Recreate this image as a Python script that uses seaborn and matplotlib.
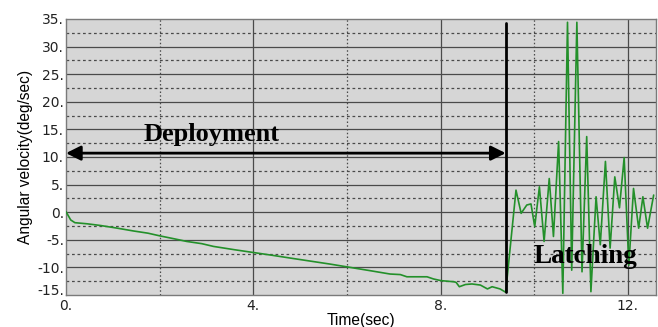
import numpy as np
import pandas as pd
import matplotlib
matplotlib.use("Agg")
import matplotlib.pyplot as plt
import matplotlib.transforms as mtransforms
import seaborn as sns

# ---- data ----
t_deploy = [0.0, 0.1, 0.19, 0.45, 0.73, 1.1, 1.44, 1.75, 2.01, 2.3, 2.58, 2.9, 3.15, 3.6,
            4.0, 4.4, 4.86, 5.25, 5.64, 6.07, 6.5, 6.92, 7.14, 7.28, 7.5, 7.71, 7.85,
            8.01, 8.28, 8.33, 8.40, 8.53, 8.67, 8.85, 9.0, 9.10, 9.27, 9.39]
w_deploy = [0.1, -1.4, -1.9, -2.1, -2.4, -2.9, -3.4, -3.8, -4.3, -4.8, -5.3, -5.7, -6.2, -6.8,
            -7.3, -7.8, -8.4, -8.9, -9.4, -10.0, -10.6, -11.2, -11.3, -11.7, -11.7, -11.7, -12.1,
            -12.4, -12.6, -12.7, -13.5, -13.1, -13.0, -13.2, -13.9, -13.5, -13.9, -14.5]

t_latch = [9.61, 9.72, 9.84, 9.93, 10.01, 10.11, 10.21, 10.32, 10.41, 10.52, 10.61, 10.71,
           10.80, 10.91, 11.02, 11.12, 11.21, 11.32, 11.41, 11.52, 11.62, 11.72, 11.82,
           11.92, 12.02, 12.12, 12.23, 12.32, 12.42, 12.55]
w_latch = [4.0, -0.2, 1.3, 1.5, -2.6, 4.6, -5.3, 6.1, -4.4, 12.8, -14.7, 34.4,
           -10.5, 34.4, -10.8, 13.7, -14.4, 2.8, -5.9, 9.2, -6.5, 6.4, 0.8,
           9.9, -9.6, 4.3, -2.9, 2.8, -2.9, 3.1]

x_ticks = [0, 4, 8, 12]
x_ticklabels = ["0.", "4.", "8.", "12."]
y_ticks = [-15, -10, -5, 0, 5, 10, 15, 20, 25, 30, 35]
y_ticklabels = ["-15.", "-10.", "-5.", "0.", "5.", "10.", "15.", "20.", "25.", "30.", "35."]

t_switch = 9.39
arrow_y = 10.7

df = pd.DataFrame({"Time": t_deploy + t_latch, "Omega": w_deploy + w_latch})

sns.set_style("white")
plt.rcParams["font.family"] = ["DejaVu Sans"]

fig = plt.figure(figsize=(6.58, 3.27), dpi=100)
ax = fig.add_axes([66/658, 1-295/327, (656-66)/658, (295-19)/327])
ax.set_facecolor("#d6d6d6")

sns.lineplot(data=df, x="Time", y="Omega", ax=ax, color="#23902a", linewidth=1.2,
             sort=False, estimator=None, zorder=4)

ax.set_xlim(0, 12.6)
ax.set_ylim(-15, 35)

# grid
for v in [4, 8, 12]:
    ax.axvline(v, color="#4a4a4a", lw=0.9, zorder=1)
for v in [2, 6, 10]:
    ax.axvline(v, color="#4a4a4a", lw=0.9, ls=(0, (1.2, 1.8)), zorder=1)
for v in range(-10, 35, 5):
    ax.axhline(v, color="#4a4a4a", lw=0.9, zorder=1)
for v in np.arange(-12.5, 35, 5):
    ax.axhline(v, color="#4a4a4a", lw=0.9, ls=(0, (2.2, 2.2)), zorder=1)

ax.set_xticks(x_ticks)
ax.set_xticklabels(x_ticklabels)
ax.set_yticks(y_ticks)
ax.set_yticklabels(y_ticklabels)
ax.tick_params(axis="both", length=0, labelsize=10, colors="#222222", pad=1.5)
ax.tick_params(axis="x", pad=3)

# lift the lowest y label a little, as in the reference
lab = ax.get_yticklabels()[0]
lab.set_transform(lab.get_transform() +
                  mtransforms.ScaledTranslation(0, 4/72, fig.dpi_scale_trans))

for s in ax.spines.values():
    s.set_color("#7a7a7a")
    s.set_linewidth(1.0)

ax.set_xlabel("Time(sec)", family="Liberation Sans", fontsize=11.2, labelpad=0,
              color="black")
ax.set_ylabel("Angular velocity(deg/sec)", family="Liberation Sans", fontsize=11.2,
              labelpad=3, color="black")

# annotations
ax.plot([t_switch, t_switch], [-14.5, 34.2], color="black", lw=2, zorder=5)
ax.annotate("", xy=(0.0, arrow_y), xytext=(t_switch, arrow_y),
            arrowprops=dict(arrowstyle="<|-|>", color="black", lw=2,
                            mutation_scale=22, shrinkA=0, shrinkB=0), zorder=6)
ax.text(3.1, 14.0, "Deployment", family="Liberation Serif", fontweight="bold",
        fontsize=19, ha="center", va="center", color="black", zorder=6)
ax.text(11.09, -8.1, "Latching", family="Liberation Serif", fontweight="bold",
        fontsize=19.5, ha="center", va="center", color="black", zorder=6)

fig.savefig("out.png", dpi=100)
